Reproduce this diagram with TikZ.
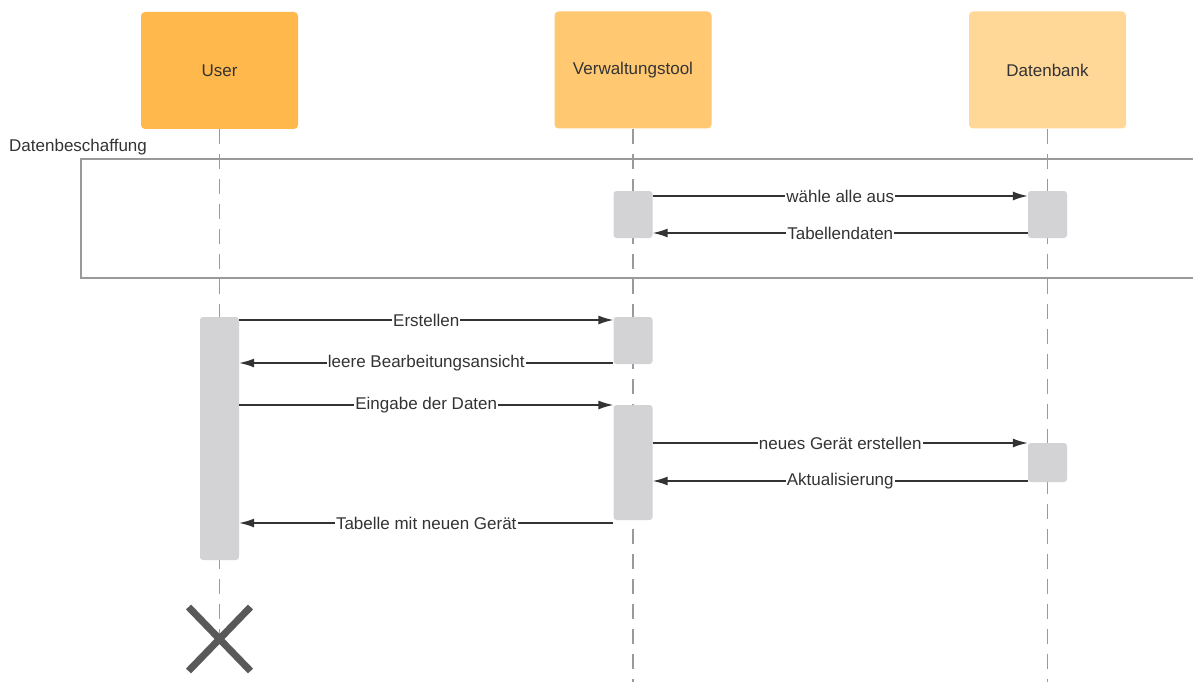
\documentclass[tikz,border=0pt]{standalone}
\usepackage{fontspec}
\setmainfont{Liberation Sans}
\usetikzlibrary{arrows.meta}
\definecolor{usercol}{HTML}{FFB84C}
\definecolor{toolcol}{HTML}{FFC871}
\definecolor{dbcol}{HTML}{FFD797}
\definecolor{bargray}{HTML}{D3D3D6}
\definecolor{linegray}{HTML}{9A9A9A}
\definecolor{darkgray}{HTML}{333333}
\definecolor{xgray}{HTML}{595959}

\begin{document}
\begin{tikzpicture}[x=1pt, y=-1pt,
    every node/.style={font=\fontsize{17}{20}\selectfont, text=darkgray},
    head/.style={rounded corners=4pt, minimum width=157pt, minimum height=117pt, inner sep=0pt},
    bar/.style={fill=bargray, rounded corners=3pt, minimum width=39pt, inner sep=0pt},
    life/.style={draw=linegray, line width=1.5pt, dash pattern=on 15pt off 10pt},
    msg/.style={draw=darkgray, line width=1.5pt, -{Latex[length=15pt,width=9pt]}},
    lbl/.style={fill=white, inner sep=1pt}]
    \useasboundingbox (0,0) rectangle (1193,682);

    % lifeline heads
    \node[head, fill=usercol] (user) at (219.5,70.5) {User};
    \node[head, fill=toolcol] (tool) at (633,70) {Verwaltungstool};
    \node[head, fill=dbcol] (db) at (1047.5,70) {Datenbank};

    % lifelines
    \coordinate (userend) at (219.5,639);
    \coordinate (toolend) at (633,682);
    \coordinate (dbend) at (1047.5,682);
    \draw[life] (user.south) -- (userend);
    \draw[life] (tool.south) -- (toolend);
    \draw[life] (db.south) -- (dbend);

    % frame
    \draw[linegray, line width=1.5pt] (81,159) rectangle (1215,278);
    \node[anchor=west, inner sep=0pt] (frame) at (9,147) {Datenbeschaffung};

    % activation bars
    \node[bar, minimum height=47pt] (tb1) at (633,214.5) {};
    \node[bar, minimum height=47pt] (db1) at (1047.5,214.5) {};
    \node[bar, minimum height=243pt] (ub) at (219.5,438.5) {};
    \node[bar, minimum height=47pt] (tb2) at (633,340.5) {};
    \node[bar, minimum height=115pt] (tb3) at (633,462.5) {};
    \node[bar, minimum height=39pt] (db2) at (1047.5,462.5) {};

    % messages
    \draw[msg] (tb1.east |- 0,196) -- node[lbl] {wähle alle aus} (db1.west |- 0,196);
    \draw[msg] (db1.west |- 0,233) -- node[lbl] {Tabellendaten} (tb1.east |- 0,233);
    \draw[msg] (ub.east |- 0,320) -- node[lbl] {Erstellen} (tb2.west |- 0,320);
    \draw[msg] (tb2.west |- 0,363) -- node[lbl] {leere Bearbeitungsansicht} (ub.east |- 0,363);
    \draw[msg] (ub.east |- 0,405) -- node[lbl] {Eingabe der Daten} (tb3.west |- 0,405);
    \draw[msg] (tb3.east |- 0,443) -- node[lbl] {neues Gerät erstellen} (db2.west |- 0,443);
    \draw[msg] (db2.west |- 0,481) -- node[lbl] {Aktualisierung} (tb3.east |- 0,481);
    \draw[msg] (tb3.west |- 0,523) -- node[lbl] {Tabelle mit neuen Gerät} (ub.east |- 0,523);

    % destruction
    \draw[xgray, line width=7pt] ([shift={(-31,-32)}]userend) -- ([shift={(31,32)}]userend);
    \draw[xgray, line width=7pt] ([shift={(31,-32)}]userend) -- ([shift={(-31,32)}]userend);
\end{tikzpicture}
\end{document}
